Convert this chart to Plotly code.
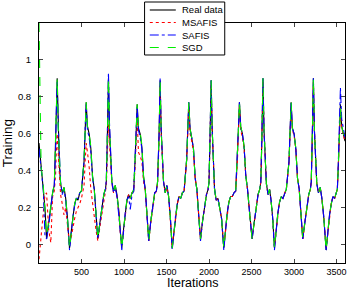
import plotly.graph_objects as go

iters = [0, 25, 50, 70, 89, 114, 139, 160, 180, 195, 202, 214,
         226, 239, 254, 274, 294, 314, 334, 359,
         379, 399, 419, 439, 459, 479, 499, 530, 543, 555,
         570, 590, 610, 630, 650, 670, 692,
         717, 742, 762, 782, 792, 805, 817,
         829, 842, 857, 877, 897, 917, 940, 955, 974,
         994, 1014, 1034, 1054, 1074, 1094, 1114, 1130, 1143, 1155,
         1170, 1190, 1210, 1230, 1250, 1270, 1291,
         1316, 1341, 1361, 1381, 1395, 1413, 1425,
         1437, 1450, 1465, 1485, 1505, 1525, 1545, 1567,
         1587, 1607, 1627, 1647, 1667, 1687, 1707, 1737, 1750, 1762,
         1777, 1797, 1817, 1837, 1857, 1877, 1900,
         1925, 1950, 1970, 1990, 2000, 2013, 2025,
         2037, 2050, 2065, 2085, 2105, 2125, 2148, 2174,
         2194, 2214, 2234, 2254, 2274, 2294, 2314, 2333, 2346, 2358,
         2373, 2393, 2413, 2433, 2453, 2478, 2507,
         2532, 2557, 2577, 2597, 2610, 2623, 2635,
         2647, 2660, 2675, 2695, 2712, 2730, 2750, 2770,
         2790, 2810, 2830, 2850, 2870, 2890, 2910, 2941, 2954, 2966,
         2981, 3001, 3021, 3041, 3061, 3081, 3103,
         3128, 3153, 3173, 3193, 3203, 3216, 3228,
         3240, 3253, 3268, 3288, 3308, 3328, 3350, 3378,
         3398, 3418, 3438, 3458, 3478, 3498, 3510, 3521, 3534, 3546,
         3561, 3580, 3600]

real_data = [0.55, 0.42, 0.32, 0.20, 0.03, 0.12, 0.22, 0.28, 0.32, 0.52, 0.68, 0.90,
             0.62, 0.44, 0.33, 0.28, 0.31, 0.25, 0.15, -0.02,
             0.07, 0.15, 0.22, 0.25, 0.24, 0.28, 0.29, 0.45, 0.62, 0.77,
             0.64, 0.60, 0.52, 0.37, 0.30, 0.18, 0.03,
             0.12, 0.22, 0.27, 0.30, 0.34, 0.60, 0.90,
             0.63, 0.45, 0.34, 0.29, 0.32, 0.27, 0.18, 0.08, -0.02,
             0.08, 0.17, 0.24, 0.27, 0.25, 0.28, 0.29, 0.45, 0.63, 0.76,
             0.63, 0.60, 0.53, 0.37, 0.30, 0.17, 0.02,
             0.13, 0.23, 0.28, 0.29, 0.34, 0.60, 0.89,
             0.62, 0.44, 0.34, 0.28, 0.32, 0.26, 0.15, -0.02,
             0.07, 0.16, 0.22, 0.26, 0.25, 0.28, 0.29, 0.46, 0.62, 0.77,
             0.63, 0.58, 0.52, 0.36, 0.30, 0.17, 0.03,
             0.13, 0.22, 0.27, 0.30, 0.34, 0.60, 0.89,
             0.63, 0.45, 0.30, 0.24, 0.25, 0.20, 0.14, -0.02,
             0.08, 0.17, 0.23, 0.26, 0.26, 0.28, 0.29, 0.45, 0.62, 0.77,
             0.64, 0.60, 0.53, 0.37, 0.30, 0.17, 0.03,
             0.12, 0.22, 0.27, 0.30, 0.34, 0.60, 0.90,
             0.62, 0.44, 0.33, 0.27, 0.30, 0.24, 0.14, -0.02,
             0.08, 0.17, 0.23, 0.26, 0.25, 0.28, 0.30, 0.45, 0.62, 0.77,
             0.63, 0.60, 0.52, 0.36, 0.30, 0.17, 0.03,
             0.12, 0.22, 0.27, 0.30, 0.34, 0.60, 0.90,
             0.62, 0.44, 0.33, 0.28, 0.31, 0.25, 0.15, -0.03,
             0.07, 0.16, 0.22, 0.26, 0.25, 0.28, 0.30, 0.42, 0.60, 0.76,
             0.64, 0.60, 0.56]

msafis = [-0.08, 0.05, 0.18, 0.27, 0.28, 0.08, 0.01, 0.26, 0.29, 0.38, 0.48, 0.60,
          0.50, 0.36, 0.27, 0.22, 0.16, 0.20, 0.12, 0.00,
          0.04, 0.10, 0.14, 0.18, 0.20, 0.22, 0.25, 0.32, 0.45, 0.55,
          0.50, 0.42, 0.30, 0.22, 0.15, 0.08, 0.02,
          0.10, 0.18, 0.24, 0.28, 0.32, 0.50, 0.65,
          0.55, 0.42, 0.33, 0.28, 0.30, 0.26, 0.17, 0.07, -0.01,
          0.07, 0.16, 0.23, 0.27, 0.25, 0.28, 0.29, 0.42, 0.56, 0.68,
          0.50, 0.48, 0.45, 0.34, 0.29, 0.16, 0.02,
          0.12, 0.22, 0.27, 0.29, 0.33, 0.57, 0.86,
          0.61, 0.44, 0.34, 0.28, 0.31, 0.26, 0.15, -0.01,
          0.07, 0.16, 0.22, 0.26, 0.25, 0.28, 0.29, 0.45, 0.60, 0.74,
          0.60, 0.56, 0.50, 0.36, 0.30, 0.17, 0.03,
          0.13, 0.22, 0.27, 0.30, 0.34, 0.58, 0.87,
          0.62, 0.44, 0.30, 0.24, 0.25, 0.20, 0.14, -0.01,
          0.08, 0.17, 0.23, 0.26, 0.26, 0.28, 0.29, 0.44, 0.61, 0.75,
          0.62, 0.58, 0.52, 0.37, 0.30, 0.17, 0.03,
          0.12, 0.22, 0.27, 0.30, 0.34, 0.59, 0.88,
          0.62, 0.44, 0.33, 0.27, 0.30, 0.24, 0.14, -0.01,
          0.08, 0.17, 0.23, 0.26, 0.25, 0.28, 0.30, 0.44, 0.61, 0.75,
          0.62, 0.59, 0.52, 0.36, 0.30, 0.17, 0.03,
          0.12, 0.22, 0.27, 0.30, 0.34, 0.59, 0.88,
          0.62, 0.44, 0.33, 0.28, 0.31, 0.25, 0.15, -0.02,
          0.07, 0.16, 0.22, 0.26, 0.25, 0.28, 0.30, 0.42, 0.60, 0.74,
          0.63, 0.60, 0.56]

safis = [0.52, 0.40, 0.30, 0.05, 0.03, 0.10, 0.20, 0.28, 0.32, 0.50, 0.70, 0.88,
         0.65, 0.45, 0.34, 0.27, 0.30, 0.24, 0.14, -0.03,
         0.07, 0.15, 0.21, 0.25, 0.25, 0.28, 0.29, 0.45, 0.63, 0.76,
         0.62, 0.58, 0.50, 0.36, 0.30, 0.17, 0.03,
         0.12, 0.22, 0.27, 0.30, 0.35, 0.62, 0.93,
         0.66, 0.46, 0.34, 0.28, 0.31, 0.26, 0.17, 0.08, -0.03,
         0.08, 0.17, 0.24, 0.26, 0.19, 0.27, 0.29, 0.45, 0.63, 0.75,
         0.62, 0.58, 0.52, 0.36, 0.30, 0.17, 0.02,
         0.13, 0.23, 0.28, 0.29, 0.34, 0.61, 0.90,
         0.63, 0.44, 0.34, 0.28, 0.32, 0.26, 0.15, -0.03,
         0.07, 0.16, 0.22, 0.26, 0.25, 0.28, 0.29, 0.46, 0.62, 0.77,
         0.62, 0.58, 0.52, 0.36, 0.30, 0.17, 0.02,
         0.13, 0.22, 0.27, 0.30, 0.34, 0.61, 0.89,
         0.63, 0.45, 0.30, 0.24, 0.25, 0.20, 0.14, -0.03,
         0.08, 0.17, 0.23, 0.26, 0.26, 0.28, 0.29, 0.45, 0.63, 0.77,
         0.63, 0.60, 0.53, 0.37, 0.30, 0.17, 0.03,
         0.12, 0.22, 0.27, 0.30, 0.34, 0.61, 0.90,
         0.62, 0.44, 0.33, 0.27, 0.30, 0.24, 0.14, -0.03,
         0.08, 0.17, 0.23, 0.26, 0.25, 0.28, 0.30, 0.45, 0.62, 0.77,
         0.63, 0.60, 0.52, 0.36, 0.30, 0.17, 0.03,
         0.12, 0.22, 0.27, 0.30, 0.34, 0.61, 0.90,
         0.62, 0.44, 0.33, 0.28, 0.31, 0.25, 0.15, -0.03,
         0.07, 0.16, 0.22, 0.26, 0.25, 0.28, 0.30, 0.44, 0.66, 0.85,
         0.68, 0.62, 0.58]

sgd = [1.20, 0.42, 0.32, 0.18, 0.05, 0.12, 0.22, 0.28, 0.33, 0.55, 0.70, 0.90,
       0.63, 0.44, 0.33, 0.28, 0.31, 0.25, 0.15, -0.02,
       0.07, 0.16, 0.22, 0.25, 0.24, 0.28, 0.29, 0.46, 0.62, 0.77,
       0.64, 0.60, 0.53, 0.37, 0.30, 0.18, 0.03,
       0.12, 0.22, 0.27, 0.31, 0.34, 0.60, 0.90,
       0.63, 0.45, 0.34, 0.29, 0.32, 0.27, 0.18, 0.08, -0.02,
       0.08, 0.17, 0.24, 0.27, 0.25, 0.28, 0.30, 0.46, 0.63, 0.76,
       0.64, 0.61, 0.54, 0.37, 0.30, 0.17, 0.02,
       0.13, 0.23, 0.28, 0.29, 0.34, 0.60, 0.89,
       0.62, 0.44, 0.34, 0.28, 0.32, 0.26, 0.15, -0.02,
       0.07, 0.16, 0.22, 0.26, 0.25, 0.28, 0.29, 0.46, 0.62, 0.77,
       0.63, 0.58, 0.52, 0.36, 0.30, 0.17, 0.03,
       0.13, 0.22, 0.27, 0.30, 0.34, 0.60, 0.89,
       0.63, 0.45, 0.30, 0.24, 0.25, 0.20, 0.14, -0.02,
       0.08, 0.17, 0.23, 0.26, 0.26, 0.28, 0.29, 0.45, 0.62, 0.77,
       0.64, 0.60, 0.53, 0.37, 0.30, 0.17, 0.03,
       0.12, 0.22, 0.27, 0.30, 0.34, 0.60, 0.90,
       0.62, 0.44, 0.33, 0.27, 0.30, 0.24, 0.14, -0.02,
       0.08, 0.17, 0.23, 0.26, 0.25, 0.28, 0.30, 0.45, 0.62, 0.77,
       0.63, 0.60, 0.52, 0.36, 0.30, 0.17, 0.03,
       0.12, 0.22, 0.27, 0.30, 0.34, 0.60, 0.90,
       0.62, 0.44, 0.33, 0.28, 0.31, 0.25, 0.15, -0.03,
       0.07, 0.16, 0.22, 0.26, 0.25, 0.28, 0.30, 0.42, 0.58, 0.74,
       0.64, 0.60, 0.56]

x_ticks = [500, 1000, 1500, 2000, 2500, 3000, 3500]
y_ticks = [0, 0.2, 0.4, 0.6, 0.8, 1]
y_tick_labels = ["0", "0.2", "0.4", "0.6", "0.8", "1"]
series_names = ["Real data", "MSAFIS", "SAFIS", "SGD"]

styles = [("#000000", "solid"), ("#ff0000", "dot"), ("#0000ff", "dashdot"), ("#00ee00", "dash")]
series_values = [real_data, msafis, safis, sgd]

fig = go.Figure()
for name, vals, (color, dash) in zip(series_names, series_values, styles):
    fig.add_trace(go.Scatter(x=iters, y=vals, mode="lines", name=name, showlegend=False,
                             line=dict(color=color, width=1.1, dash=dash)))

font = "Liberation Sans, Arial, sans-serif"

# compact legend box (paper coordinates), matching the reference's tight rows
box_x0, box_x1 = 0.345, 0.607
box_y0, box_y1 = 0.8667, 1.0875
row_y = [1.0542, 1.0021, 0.9500, 0.8979]
sample_x0, sample_x1 = 0.362, 0.447
text_x = 0.462
shapes = [dict(type="rect", xref="paper", yref="paper", x0=box_x0, x1=box_x1,
               y0=box_y0, y1=box_y1, line=dict(color="black", width=1),
               fillcolor="white", layer="above")]
annotations = []
for name, (color, dash), ry in zip(series_names, styles, row_y):
    shapes.append(dict(type="line", xref="paper", yref="paper", x0=sample_x0, x1=sample_x1,
                       y0=ry, y1=ry, line=dict(color=color, width=1.1, dash=dash),
                       layer="above"))
    annotations.append(dict(xref="paper", yref="paper", x=text_x, y=ry, text=name,
                            showarrow=False, xanchor="left", yanchor="middle",
                            font=dict(size=9.5, family=font, color="black")))

# x-axis title placed as an annotation in the bottom strip, fully inside the page
annotations.append(dict(xref="paper", yref="paper", x=0.5, y=-0.1205, text="Iterations",
                        showarrow=False, xanchor="center", yanchor="bottom",
                        font=dict(size=12.5, family=font, color="black")))

fig.update_layout(
    width=354, height=292,
    margin=dict(l=39, r=9, t=23, b=29),
    paper_bgcolor="white", plot_bgcolor="white",
    font=dict(family=font, color="black", size=9),
    showlegend=False,
    shapes=shapes, annotations=annotations,
)
fig.update_xaxes(range=[0, 3600], tickvals=x_ticks, ticks="inside", ticklen=4,
                 showline=True, linecolor="black", linewidth=1, mirror="allticks",
                 showgrid=False, zeroline=False, automargin=False,
                 tickfont=dict(size=9), ticklabelstandoff=0)
fig.update_yaxes(range=[-0.1, 1.2], tickvals=y_ticks, ticktext=y_tick_labels,
                 ticks="inside", ticklen=4,
                 showline=True, linecolor="black", linewidth=1, mirror="allticks",
                 showgrid=False, zeroline=False, automargin=False,
                 title=dict(text="Training", font=dict(size=13.5), standoff=6),
                 tickfont=dict(size=9.5), ticklabelstandoff=5)

fig.write_html("out.html")
